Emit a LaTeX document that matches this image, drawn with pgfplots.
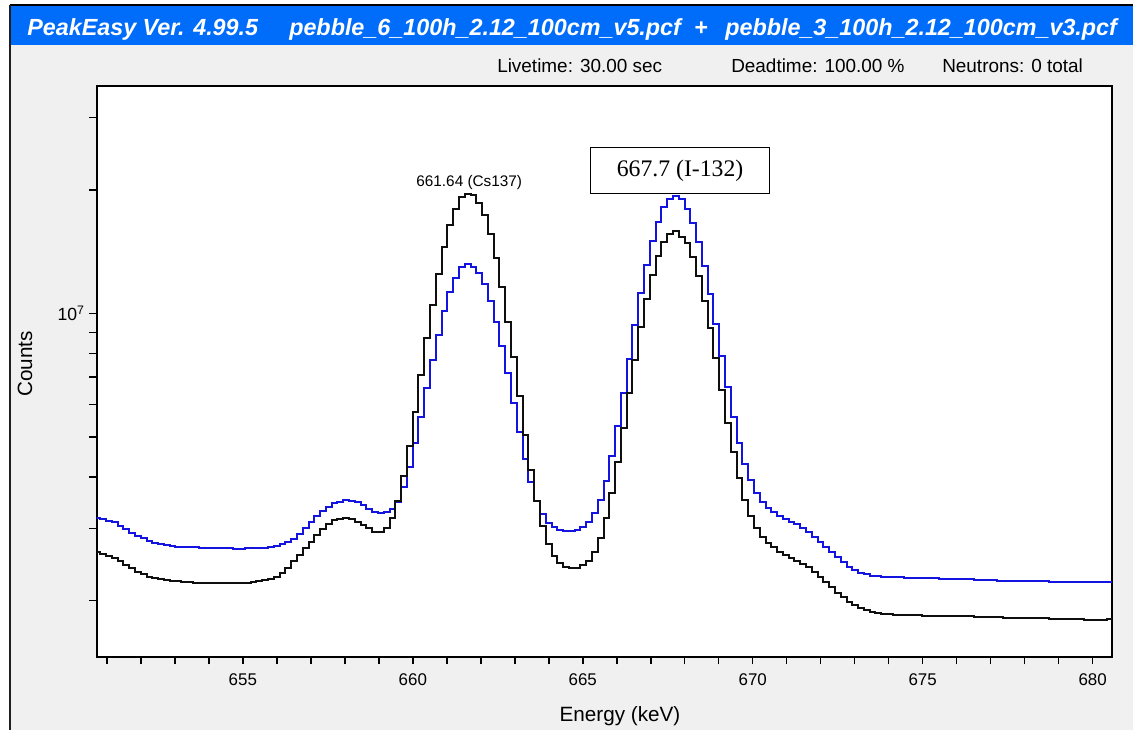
\documentclass[border=0pt]{standalone}
\usepackage{pgfplots}
\pgfplotsset{compat=1.18}
\usepackage{pgfplotstable}
\usepackage{fontspec}
\setmainfont{Liberation Sans}
\newfontfamily\seriffont{Liberation Serif}
\definecolor{titleblue}{RGB}{0,108,250}
\definecolor{panelgray}{RGB}{240,240,240}
\definecolor{specblue}{RGB}{20,20,225}
\definecolor{speck}{RGB}{15,15,15}

\pgfplotstableread{
E K B
650.634 2.628e6 3.179e6
650.804 2.603e6 3.159e6
650.974 2.574e6 3.132e6
651.144 2.539e6 3.101e6
651.315 2.497e6 3.046e6
651.485 2.441e6 2.980e6
651.655 2.397e6 2.927e6
651.825 2.354e6 2.880e6
651.995 2.318e6 2.834e6
652.166 2.288e6 2.796e6
652.336 2.268e6 2.769e6
652.506 2.251e6 2.743e6
652.676 2.240e6 2.726e6
652.846 2.232e6 2.715e6
653.017 2.226e6 2.708e6
653.187 2.219e6 2.703e6
653.357 2.216e6 2.699e6
653.527 2.212e6 2.694e6
653.697 2.211e6 2.690e6
653.868 2.211e6 2.687e6
654.038 2.211e6 2.685e6
654.208 2.208e6 2.683e6
654.378 2.207e6 2.681e6
654.548 2.205e6 2.679e6
654.719 2.204e6 2.677e6
654.889 2.207e6 2.675e6
655.059 2.212e6 2.678e6
655.229 2.219e6 2.681e6
655.399 2.230e6 2.683e6
655.570 2.241e6 2.688e6
655.740 2.257e6 2.701e6
655.910 2.285e6 2.718e6
656.080 2.334e6 2.743e6
656.250 2.403e6 2.772e6
656.421 2.491e6 2.827e6
656.591 2.581e6 2.901e6
656.761 2.680e6 3.003e6
656.931 2.781e6 3.105e6
657.101 2.893e6 3.207e6
657.272 2.993e6 3.300e6
657.442 3.080e6 3.382e6
657.612 3.134e6 3.454e6
657.782 3.164e6 3.484e6
657.952 3.179e6 3.510e6
658.123 3.160e6 3.500e6
658.293 3.109e6 3.472e6
658.463 3.059e6 3.409e6
658.633 3.003e6 3.350e6
658.803 2.940e6 3.294e6
658.974 2.932e6 3.261e6
659.144 3.008e6 3.294e6
659.314 3.182e6 3.335e6
659.484 3.499e6 3.480e6
659.654 4.019e6 3.786e6
659.825 4.754e6 4.220e6
659.995 5.763e6 4.829e6
660.165 7.077e6 5.585e6
660.335 8.694e6 6.571e6
660.505 1.048e7 7.698e6
660.676 1.244e7 8.857e6
660.846 1.452e7 1.013e7
661.016 1.640e7 1.125e7
661.186 1.800e7 1.221e7
661.356 1.922e7 1.294e7
661.527 1.951e7 1.318e7
661.697 1.940e7 1.294e7
661.867 1.858e7 1.255e7
662.037 1.741e7 1.179e7
662.207 1.565e7 1.073e7
662.378 1.361e7 9.541e6
662.548 1.157e7 8.340e6
662.718 9.541e6 7.145e6
662.888 7.842e6 6.039e6
663.058 6.292e6 5.150e6
663.229 5.056e6 4.413e6
663.399 4.156e6 3.893e6
663.569 3.493e6 3.503e6
663.739 3.038e6 3.248e6
663.909 2.754e6 3.094e6
664.080 2.567e6 3.016e6
664.250 2.465e6 2.970e6
664.420 2.410e6 2.953e6
664.590 2.397e6 2.953e6
664.760 2.397e6 2.970e6
664.931 2.441e6 3.026e6
665.101 2.501e6 3.111e6
665.271 2.630e6 3.261e6
665.441 2.844e6 3.513e6
665.611 3.182e6 3.915e6
665.782 3.664e6 4.495e6
665.952 4.354e6 5.318e6
666.122 5.250e6 6.408e6
666.292 6.388e6 7.741e6
666.462 7.698e6 9.365e6
666.633 9.278e6 1.119e7
666.803 1.082e7 1.311e7
666.973 1.240e7 1.499e7
667.143 1.379e7 1.671e7
667.313 1.494e7 1.811e7
667.484 1.559e7 1.897e7
667.654 1.586e7 1.929e7
667.824 1.533e7 1.897e7
667.994 1.485e7 1.800e7
668.164 1.369e7 1.661e7
668.335 1.233e7 1.494e7
668.505 1.073e7 1.303e7
668.675 9.194e6 1.114e7
668.845 7.772e6 9.419e6
669.015 6.509e6 7.886e6
669.186 5.417e6 6.631e6
669.356 4.605e6 5.603e6
669.526 3.968e6 4.845e6
669.696 3.524e6 4.298e6
669.866 3.212e6 3.930e6
670.037 2.998e6 3.648e6
670.207 2.860e6 3.470e6
670.377 2.761e6 3.363e6
670.547 2.696e6 3.289e6
670.717 2.630e6 3.212e6
670.888 2.581e6 3.153e6
671.058 2.534e6 3.111e6
671.228 2.501e6 3.072e6
671.398 2.455e6 3.008e6
671.568 2.410e6 2.942e6
671.739 2.343e6 2.860e6
671.909 2.279e6 2.781e6
672.079 2.216e6 2.705e6
672.249 2.155e6 2.630e6
672.419 2.091e6 2.548e6
672.590 2.044e6 2.487e6
672.760 1.987e6 2.418e6
672.930 1.951e6 2.373e6
673.100 1.921e6 2.337e6
673.270 1.897e6 2.318e6
673.441 1.879e6 2.299e6
673.611 1.862e6 2.289e6
673.781 1.855e6 2.285e6
673.951 1.852e6 2.282e6
674.121 1.848e6 2.281e6
674.292 1.845e6 2.279e6
674.462 1.843e6 2.276e6
674.632 1.841e6 2.274e6
674.802 1.840e6 2.271e6
674.972 1.839e6 2.269e6
675.143 1.838e6 2.266e6
675.313 1.837e6 2.264e6
675.483 1.836e6 2.262e6
675.653 1.835e6 2.260e6
675.823 1.835e6 2.259e6
675.994 1.835e6 2.256e6
676.164 1.835e6 2.254e6
676.334 1.831e6 2.251e6
676.504 1.829e6 2.249e6
676.674 1.827e6 2.247e6
676.845 1.824e6 2.244e6
677.015 1.822e6 2.240e6
677.185 1.820e6 2.237e6
677.355 1.819e6 2.235e6
677.525 1.818e6 2.235e6
677.696 1.817e6 2.234e6
677.866 1.817e6 2.234e6
678.036 1.816e6 2.233e6
678.206 1.815e6 2.231e6
678.376 1.813e6 2.229e6
678.547 1.810e6 2.226e6
678.717 1.807e6 2.225e6
678.887 1.805e6 2.223e6
679.057 1.802e6 2.220e6
679.227 1.802e6 2.220e6
679.398 1.800e6 2.219e6
679.568 1.799e6 2.219e6
679.738 1.798e6 2.218e6
679.908 1.798e6 2.218e6
680.078 1.797e6 2.216e6
680.249 1.798e6 2.216e6
680.419 1.804e6 2.216e6
680.589 1.804e6 2.216e6
}\spec

\begin{document}
\begin{tikzpicture}
\begin{scope}[x=0.75pt,y=-0.75pt]
\useasboundingbox (0,0) rectangle (1133,730);
\fill[white] (0,0) rectangle (1133,730);
\fill[panelgray] (10,45) rectangle (1133,730);
\fill[titleblue] (10,5) rectangle (1133,45);
\draw[black,line width=1.1pt] (10,5) -- (1133,5);
\draw[black!88,line width=2pt] (10,5) -- (10,730);
\begin{scope}[every node/.style={anchor=base west, inner sep=0pt, text=white, font=\fontsize{17.5}{20}\selectfont\bfseries\itshape}]
\node at (27,36) {PeakEasy Ver. 4.99.5};
\node at (289,36) {pebble\_6\_100h\_2.12\_100cm\_v5.pcf};
\node[anchor=base] at (701,36) {+};
\node at (725,36) {pebble\_3\_100h\_2.12\_100cm\_v3.pcf};
\end{scope}
\begin{scope}[every node/.style={anchor=base west, inner sep=0pt, text=black, font=\fontsize{14.2}{17}\selectfont}]
\node at (497,72) {Livetime: 30.00 sec};
\node at (731,72) {Deadtime: 100.00 \%};
\node at (942,72) {Neutrons: 0 total};
\end{scope}
\end{scope}
\begin{axis}[
  at={(72.525pt,-492.75pt)}, anchor=south west,
  width=761.5pt, height=428.25pt, scale only axis,
  xmin=650.7, xmax=680.57,
  ymode=log, ymin=1.458e6, ymax=3.579e7,
  axis background/.style={fill=white},
  axis line style={black, line width=1.5pt},
  tick align=outside, tick pos=left,
  tick style={black, line width=1.1pt},
  major tick length=5.5pt, minor tick length=5.5pt,
  xtick={655,660,665,670,675,680},
  minor xtick={651,652,653,654,656,657,658,659,661,662,663,664,666,667,668,669,671,672,673,674,676,677,678,679},
  ytick={1e7}, yticklabels={10\textsuperscript{7}},
  minor ytick={2e6,3e6,4e6,5e6,6e6,7e6,8e6,9e6,2e7,3e7},
  /pgf/number format/assume math mode=true,
  ticklabel style={font=\fontsize{12.7}{14}\selectfont},
  xticklabel style={yshift=-3.5pt},
  yticklabel style={font=\fontsize{13.2}{15}\selectfont},
  xlabel={Energy (keV)}, ylabel={Counts},
  label style={font=\fontsize{15.5}{18}\selectfont},
  xlabel style={at={(axis description cs:0.5154,-0.1033)}, anchor=center},
  ylabel style={at={(axis description cs:-0.0706,0.513)}, anchor=center},
]
\addplot[const plot, specblue, line width=1.5pt] table[x=E,y=B]{\spec};
\addplot[const plot, speck, line width=1.5pt] table[x=E,y=K]{\spec};
\node[font=\fontsize{11.5}{13}\selectfont, inner sep=0pt] at (axis cs:661.66,2.087e7) {661.64 (Cs137)};
\node[draw=black, fill=white, line width=1pt, minimum width=134pt, minimum height=34.5pt, inner sep=0pt, font=\seriffont\fontsize{17.8}{20}\selectfont] at (axis cs:667.862,2.230e7) {667.7 (I-132)};
\end{axis}
\end{tikzpicture}
\end{document}
